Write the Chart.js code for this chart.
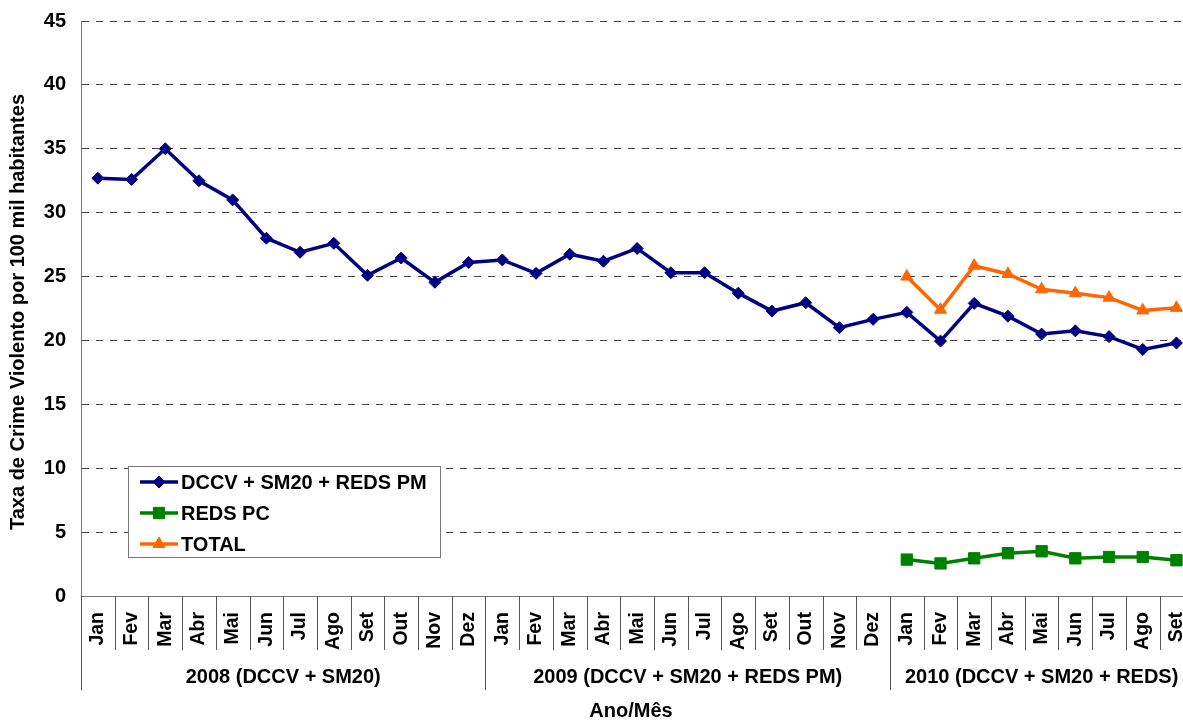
<!DOCTYPE html>
<html>
<head>
<meta charset="utf-8">
<script src="https://cdn.jsdelivr.net/npm/chart.js@4.4.0/dist/chart.umd.min.js"></script>
<style>
html, body { margin: 0; padding: 0; background: #fff; overflow: hidden; }
#wrap { width: 1183px; height: 720px; overflow: hidden; }
#chart { margin-top: -6px; display: block; }
</style>
</head>
<body>
<div id="wrap"><canvas id="chart" width="1216" height="726"></canvas></div>
<script>
// DATA
const months = ['Jan','Fev','Mar','Abr','Mai','Jun','Jul','Ago','Set','Out','Nov','Dez',
                'Jan','Fev','Mar','Abr','Mai','Jun','Jul','Ago','Set','Out','Nov','Dez',
                'Jan','Fev','Mar','Abr','Mai','Jun','Jul','Ago','Set'];
const years = ['2008 (DCCV + SM20)', '2009 (DCCV + SM20 + REDS PM)', '2010 (DCCV + SM20 + REDS)'];
const yearMonths = [12, 12, 9];

const dccv = [32.7, 32.6, 35.0, 32.5, 31.0, 28.0, 26.9, 27.6, 25.1, 26.45, 24.55, 26.1,
              26.3, 25.25, 26.75, 26.2, 27.2, 25.3, 25.3, 23.7, 22.3, 22.95, 21.0, 21.65,
              22.2, 19.95, 22.9, 21.9, 20.5, 20.75, 20.3, 19.3, 19.8];
const redsPc = [null,null,null,null,null,null,null,null,null,null,null,null,
                null,null,null,null,null,null,null,null,null,null,null,null,
                2.85, 2.55, 2.95, 3.35, 3.5, 2.95, 3.05, 3.05, 2.8];
const total = [null,null,null,null,null,null,null,null,null,null,null,null,
               null,null,null,null,null,null,null,null,null,null,null,null,
               25.0, 22.4, 25.85, 25.2, 24.0, 23.7, 23.35, 22.35, 22.55];

const yTicks = [0, 5, 10, 15, 20, 25, 30, 35, 40, 45];

const FONT = '"Liberation Sans", Arial, sans-serif';
const OFF = 6; // canvas deslocado para cima

// desenha separadores, grupos, titulos e legenda
const extras = {
  id: 'extras',
  afterDraw(chart) {
    const ctx = chart.ctx;
    const area = chart.chartArea;
    const w = (area.right - area.left) / months.length;
    ctx.save();
    ctx.strokeStyle = '#555';
    ctx.lineWidth = 1;
    let bounds = [0];
    let acc = 0;
    yearMonths.forEach(n => { acc += n; bounds.push(acc); });
    for (let i = 0; i <= months.length; i++) {
      const x = Math.round(area.left + i * w) + 0.5;
      const long = bounds.includes(i);
      ctx.beginPath();
      ctx.moveTo(x, area.bottom);
      ctx.lineTo(x, area.bottom + (long ? 94 : 54));
      ctx.stroke();
    }
    ctx.fillStyle = '#000';
    ctx.font = 'bold 20px ' + FONT;
    ctx.textAlign = 'center';
    ctx.textBaseline = 'middle';
    for (let g = 0; g < years.length; g++) {
      const cx = area.left + (bounds[g] + bounds[g + 1]) / 2 * w;
      ctx.fillText(years[g], cx, area.bottom + 81);
    }
    ctx.fillText('Ano/Mês', 631, 711 + OFF);
    ctx.save();
    ctx.translate(18, 312 + OFF);
    ctx.rotate(-Math.PI / 2);
    ctx.fillText('Taxa de Crime Violento por 100 mil habitantes', 0, 0);
    ctx.restore();

    // legenda
    ctx.fillStyle = '#fff';
    ctx.fillRect(128, 466 + OFF, 312, 91);
    ctx.strokeStyle = '#777';
    ctx.strokeRect(128.5, 466.5 + OFF, 312, 91);
    const items = [
      ['DCCV + SM20 + REDS PM', '#000080', 'rectRot', 6],
      ['REDS PC', '#008000', 'rect', 8],
      ['TOTAL', '#FF6600', 'triangle', 7]
    ];
    items.forEach((it, k) => {
      const y = 482 + OFF + k * 31;
      ctx.strokeStyle = it[1];
      ctx.fillStyle = it[1];
      ctx.lineWidth = 3.5;
      ctx.beginPath();
      ctx.moveTo(140, y);
      ctx.lineTo(178, y);
      ctx.stroke();
      ctx.lineWidth = 1;
      Chart.helpers.drawPoint(ctx, { pointStyle: it[2], radius: it[3], borderWidth: 1, rotation: 0 }, 159, y);
      ctx.fillStyle = '#000';
      ctx.textAlign = 'left';
      ctx.fillText(it[0], 181, y + 1);
    });
    ctx.restore();
  }
};

const myChart = new Chart('chart', {
  type: 'line',
  data: {
    labels: months,
    datasets: [
      {
        label: 'DCCV + SM20 + REDS PM',
        data: dccv,
        borderColor: '#000080',
        backgroundColor: '#000080',
        borderWidth: 3.5,
        pointStyle: 'rectRot',
        pointRadius: 6,
        pointBorderWidth: 1
      },
      {
        label: 'REDS PC',
        data: redsPc,
        borderColor: '#008000',
        backgroundColor: '#008000',
        borderWidth: 3.5,
        pointStyle: 'rect',
        pointRadius: 8,
        pointBorderWidth: 1
      },
      {
        label: 'TOTAL',
        data: total,
        borderColor: '#FF6600',
        backgroundColor: '#FF6600',
        borderWidth: 3.5,
        pointStyle: 'triangle',
        pointRadius: 7,
        pointBorderWidth: 1
      }
    ]
  },
  options: {
    responsive: false,
    animation: false,
    layout: { padding: { top: 20, left: 0, right: 0, bottom: 0 } },
    plugins: { legend: { display: false }, tooltip: { enabled: false } },
    scales: {
      x: {
        offset: true,
        afterFit: s => { s.height = 124; },
        grid: { display: false, drawTicks: false },
        border: { display: true, color: '#777' },
        ticks: {
          autoSkip: false,
          minRotation: 90,
          maxRotation: 90,
          padding: 16,
          color: '#000',
          font: { family: FONT, size: 19.5, weight: 'bold' }
        }
      },
      y: {
        min: 0,
        max: 45,
        afterFit: s => { s.width = 81; },
        afterBuildTicks: s => { s.ticks = yTicks.map(v => ({ value: v })); },
        grid: {
          drawTicks: false,
          color: c => (c.tick && c.tick.value === 0) ? 'rgba(0,0,0,0)' : '#444'
        },
        border: { display: true, color: '#777', dash: [7, 7] },
        ticks: {
          padding: 15,
          color: '#000',
          font: { family: FONT, size: 20, weight: 'bold' }
        }
      }
    }
  },
  plugins: [extras]
});
</script>
</body>
</html>
